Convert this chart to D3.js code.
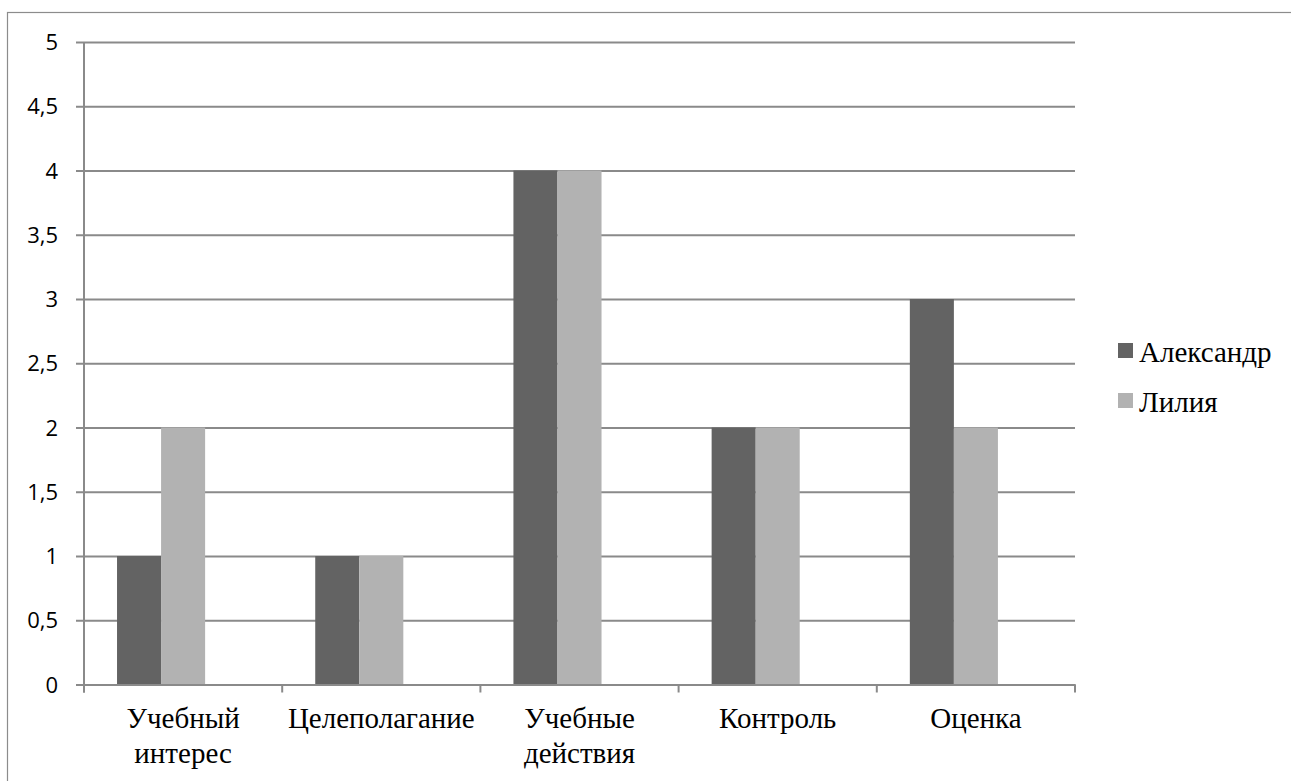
<!DOCTYPE html>
<html>
<head>
<meta charset="utf-8">
<script src="https://cdn.jsdelivr.net/npm/d3@7/dist/d3.min.js"></script>
<style>
  html, body { margin: 0; padding: 0; background: #fff; }
  text.serif { font-family: "Liberation Serif"; }
  text.sans { font-family: "Open Sans"; }
</style>
</head>
<body>
<svg id="chart" width="1291" height="781"></svg>
<script>
// Chart data
const categories = [["Учебный", "интерес"], ["Целеполагание"], ["Учебные", "действия"], ["Контроль"], ["Оценка"]];
const seriesNames = ["Александр", "Лилия"];
const alexValues = [1, 1, 4, 2, 3];
const liliyaValues = [2, 1, 4, 2, 2];
const yTicks = [0, 0.5, 1, 1.5, 2, 2.5, 3, 3.5, 4, 4.5, 5];
const seriesColors = ["#636363", "#b2b2b2"];

const svg = d3.select("#chart");
const W = 1291, H = 781;
const plot = { left: 84, right: 1075, top: 42, bottom: 684.5 };
const gridColor = "#8a8a8a";

// Outer chart frame (extends past the page edges on the right and bottom)
svg.append("rect")
  .attr("x", 7.5).attr("y", 12.5)
  .attr("width", W * 2).attr("height", H * 2)
  .attr("fill", "#fff").attr("stroke", "#8c8c8c").attr("stroke-width", 1.2);

const catKeys = categories.map((c, i) => i);
const x0 = d3.scaleBand().domain(catKeys).range([plot.left, plot.right]).paddingInner(0).paddingOuter(0);
const bw = x0.bandwidth();
// Three slots per category: two series plus an empty one, centred in the band
const x1 = d3.scaleBand().domain([0, 1, 2]).range([bw / 6, bw * 5 / 6]).padding(0);
const y = d3.scaleLinear().domain([0, 5]).range([plot.bottom, plot.top]);

// Horizontal gridlines with left tick marks
const yAxis = d3.axisLeft(y).tickValues(yTicks)
  .tickSize(-(plot.right - plot.left))
  .tickSizeOuter(0)
  .tickFormat(() => "");
const gy = svg.append("g").attr("transform", `translate(${plot.left},0)`).call(yAxis);
gy.select(".domain").remove();
gy.selectAll(".tick line").attr("stroke", gridColor).attr("stroke-width", 2).attr("x1", -8);

// Bars
const rows = catKeys.map(i => [alexValues[i], liliyaValues[i]]);
const groups = svg.append("g").selectAll("g").data(rows).join("g")
  .attr("transform", (d, i) => `translate(${x0(i)},0)`);
groups.selectAll("rect").data(d => d.map((v, s) => ({ v, s }))).join("rect")
  .attr("x", d => x1(d.s))
  .attr("width", x1.bandwidth())
  .attr("y", d => y(d.v))
  .attr("height", d => y(0) - y(d.v))
  .attr("fill", d => seriesColors[d.s]);

// Axis lines
svg.append("line")
  .attr("x1", plot.left).attr("x2", plot.left)
  .attr("y1", plot.top).attr("y2", plot.bottom + 8)
  .attr("stroke", gridColor).attr("stroke-width", 2);

const xAxis = d3.axisBottom(x0).tickSize(0).tickFormat(() => "");
const gx = svg.append("g").attr("transform", `translate(0,${plot.bottom})`).call(xAxis);
gx.select(".domain").attr("stroke", gridColor).attr("stroke-width", 2);
// Category boundary ticks
const bounds = catKeys.map(i => x0(i)).concat([x0(catKeys[catKeys.length - 1]) + bw]);
svg.append("g").selectAll("line").data(bounds).join("line")
  .attr("x1", d => d).attr("x2", d => d)
  .attr("y1", plot.bottom).attr("y2", plot.bottom + 8)
  .attr("stroke", gridColor).attr("stroke-width", 2);

// Y labels
svg.selectAll("text.ylab").data(yTicks).join("text")
  .attr("class", "ylab sans")
  .attr("x", 58)
  .attr("y", d => y(d) + 8)
  .attr("text-anchor", "end")
  .style("font-family", '"Open Sans"')
  .style("font-size", "22px")
  .text(d => String(d).replace(".", ","));

// Category labels, one text per line
const catLines = [];
categories.forEach((lines, i) => lines.forEach((t, j) => catLines.push({ i, j, t })));
svg.selectAll("text.cat").data(catLines).join("text")
  .attr("class", "cat serif")
  .attr("x", d => x0(d.i) + bw / 2)
  .attr("y", d => 728 + d.j * 35)
  .attr("text-anchor", "middle")
  .style("font-family", '"Liberation Serif"')
  .style("font-size", "29px")
  .text(d => d.t);

// Legend
svg.selectAll("rect.key").data(seriesNames).join("rect")
  .attr("class", "key")
  .attr("x", 1118).attr("y", (d, i) => 343 + i * 50)
  .attr("width", 15).attr("height", 15)
  .attr("fill", (d, i) => seriesColors[i]);
svg.selectAll("text.key").data(seriesNames).join("text")
  .attr("class", "key serif")
  .attr("x", 1139).attr("y", (d, i) => 362 + i * 50)
  .style("font-family", '"Liberation Serif"')
  .style("font-size", "29px")
  .text(d => d);
</script>
</body>
</html>
